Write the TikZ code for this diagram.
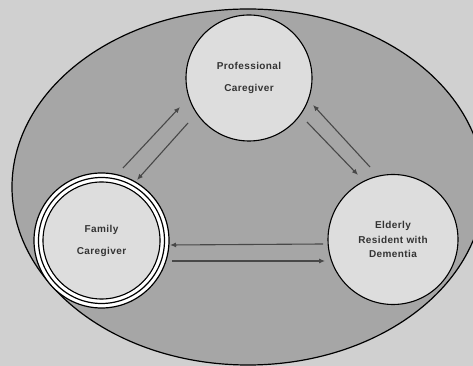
\documentclass[tikz,border=0pt]{standalone}
\usepackage{fontspec}
\newfontfamily\labelfont[LetterSpace=4]{Liberation Sans}
\usetikzlibrary{arrows.meta,positioning}
\definecolor{pagegray}{RGB}{208,208,208}
\definecolor{ovalgray}{RGB}{166,166,166}
\definecolor{discgray}{RGB}{221,221,221}
\definecolor{linkgray}{RGB}{72,72,72}
\tikzset{
actor/.style={
  circle,
  draw=black,
  line width=1.1pt,
  fill=discgray,
  inner sep=0pt,
  align=center,
  text=black!80,
  font=\labelfont\bfseries\fontsize{10}{14.5}\selectfont
  },
link/.style={
  draw=linkgray,
  line width=1.1pt,
  -{Latex[length=6pt,width=5pt]}
  }
}
\begin{document}
\begin{tikzpicture}[x=1pt,y=1pt]
\useasboundingbox[fill=pagegray] (0,0) rectangle (473,366);
\draw[fill=ovalgray,line width=1.2pt] (248,179) ellipse [x radius=236,y radius=178];

% triple ring round the family caregiver
\coordinate (famc) at (101.5,125.5);
\draw[white,line width=8.5pt] (famc) circle [radius=63.2];
\draw[line width=1.2pt] (famc) circle [radius=67.5];
\draw[line width=1.2pt] (famc) circle [radius=63];

\node[actor,minimum size=126pt] (pro) at (249,288) {Professional\\[7.5pt]Caregiver};
\node[actor,minimum size=117pt] (fam) at (famc) {Family\\[7.5pt]Caregiver};
\node[actor,minimum size=130pt] (eld) at (393,126.5) {Elderly\\Resident with\\Dementia};

\begin{scope}
\coordinate(start) at([xshift=21.5pt,yshift=72.5pt]fam.center);
\coordinate(end) at([xshift=-69pt,yshift=-29pt]pro.center);
\draw[link] (start) -- (end);
\end{scope}

\begin{scope}
\coordinate(start) at([xshift=-61pt,yshift=-45pt]pro.center);
\coordinate(end) at([xshift=35.5pt,yshift=60.5pt]fam.center);
\draw[link] (start) -- (end);
\end{scope}

\begin{scope}
\coordinate(start) at([xshift=58pt,yshift=-44pt]pro.center);
\coordinate(end) at([xshift=-35pt,yshift=64.5pt]eld.center);
\draw[link] (start) -- (end);
\end{scope}

\begin{scope}
\coordinate(start) at([xshift=-23pt,yshift=72.5pt]eld.center);
\coordinate(end) at([xshift=64pt,yshift=-27pt]pro.center);
\draw[link] (start) -- (end);
\end{scope}

\begin{scope}
\coordinate(start) at([xshift=-70pt,yshift=-4.5pt]eld.center);
\coordinate(end) at([xshift=68.5pt,yshift=-4.5pt]fam.center);
\draw[link] (start) -- (end);
\end{scope}

\begin{scope}
\coordinate(start) at([xshift=70.5pt,yshift=-20.5pt]fam.center);
\coordinate(end) at([xshift=-68pt,yshift=-21.5pt]eld.center);
\draw[link] (start) -- (end);
\end{scope}

\end{tikzpicture}
\end{document}
